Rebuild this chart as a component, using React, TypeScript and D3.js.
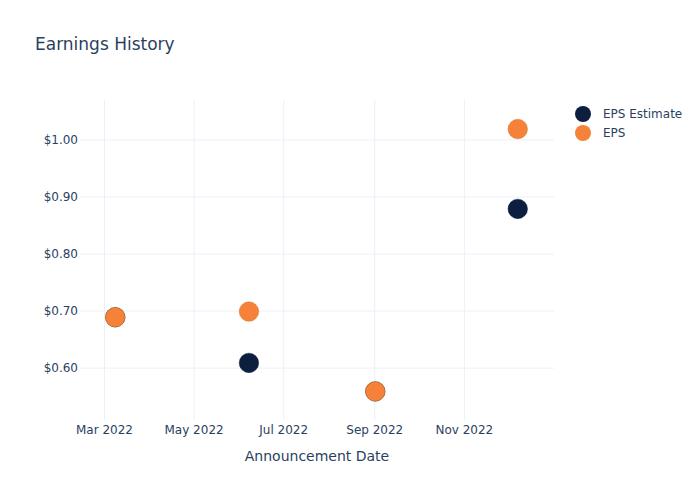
import React from "react";
import * as d3 from "d3";

const dates = ["2022-03-08", "2022-06-07", "2022-09-01", "2022-12-07"];
const epsEstimate = [0.69, 0.61, 0.56, 0.88];
const eps = [0.69, 0.7, 0.56, 1.02];
const xTicks = ["2022-03-01", "2022-05-01", "2022-07-01", "2022-09-01", "2022-11-01"];
const yTicks = [0.6, 0.7, 0.8, 0.9, 1.0];
const seriesNames = ["EPS Estimate", "EPS"];
const colors = ["#0c1f3f", "#f58238"];

const W = 700;
const H = 500;
const FONT = "'DejaVu Sans', Verdana, sans-serif";
const TXT = "#2a3f5f";
const GRID = "#ebf0f8";

export default function App() {
  const left = 80, right = 554, top = 100, bottom = 420;
  const x = d3
    .scaleUtc()
    .domain([new Date(Date.UTC(2022, 1, 12, 8)), new Date(Date.UTC(2023, 0, 1))])
    .range([left, right]);
  const y = d3.scaleLinear().domain([0.509, 1.07]).range([bottom, top]);
  const parse = (s: string) => new Date(s + "T00:00:00Z");
  const fmtX = d3.utcFormat("%b %Y");
  const fmtY = (v: number) => "$" + d3.format(".2f")(v);
  const series = [epsEstimate, eps];

  return (
    <svg width={W} height={H} style={{ position: "absolute", left: 0, top: 0, background: "#fff" }} fontFamily={FONT}>
      <rect x={0} y={0} width={W} height={H} fill="#fff" />
      {yTicks.map((t) => (
        <line key={"yg" + t} x1={left} x2={right} y1={y(t)} y2={y(t)} stroke={GRID} strokeWidth={1} />
      ))}
      {xTicks.map((t) => (
        <line key={"xg" + t} x1={x(parse(t))} x2={x(parse(t))} y1={top} y2={bottom} stroke={GRID} strokeWidth={1} />
      ))}
      {yTicks.map((t) => (
        <text key={"yt" + t} x={left - 2} y={y(t) + 4} textAnchor="end" fontSize={12} fill={TXT}>
          {fmtY(t)}
        </text>
      ))}
      {xTicks.map((t) => (
        <text key={"xt" + t} x={x(parse(t))} y={bottom + 13.5} textAnchor="middle" fontSize={12} fill={TXT}>
          {fmtX(parse(t))}
        </text>
      ))}
      <text x={(left + right) / 2} y={461} textAnchor="middle" fontSize={14} fill={TXT}>
        Announcement Date
      </text>
      <text x={35} y={50} fontSize={17} fill={TXT}>
        Earnings History
      </text>
      {series.map((vals, si) =>
        vals.map((v, i) => (
          <circle
            key={si + "-" + i}
            cx={x(parse(dates[i])) + 0.5}
            cy={y(v) + 0.5}
            r={9.75}
            fill={colors[si]}
            stroke={si === 1 ? "#d9722f" : "#0c1f3f"}
            strokeWidth={0.5}
          />
        ))
      )}
      {seriesNames.map((n, i) => (
        <g key={n} transform={`translate(583, ${114 + i * 19})`}>
          <circle cx={0} cy={0} r={8} fill={colors[i]} />
          <text x={20} y={4} fontSize={12} fill={TXT}>
            {n}
          </text>
        </g>
      ))}
    </svg>
  );
}
